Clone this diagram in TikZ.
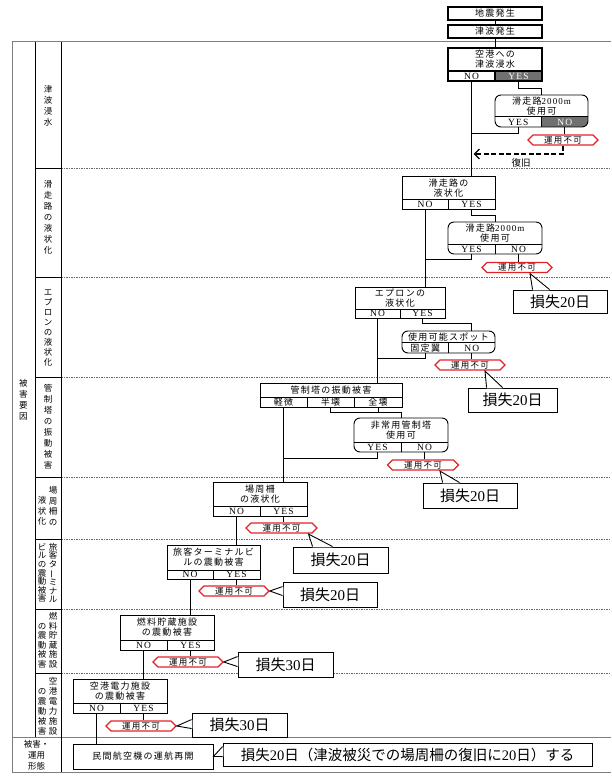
\documentclass[tikz,border=0pt]{standalone}
\usepackage{fontspec}
\setmainfont{Liberation Serif}
\newfontfamily\jp{Noto Sans CJK JP}
\newfontfamily\jpw{Noto Sans CJK JP}[LetterSpace=14]
\newfontfamily\lat{Liberation Serif}[LetterSpace=12]
\usetikzlibrary{calc,shapes.symbols,arrows.meta}
\definecolor{hexred}{RGB}{225,35,40}
\definecolor{cellgray}{RGB}{112,112,112}
\definecolor{framegray}{RGB}{125,125,125}
\definecolor{dashgray}{RGB}{105,105,105}
\tikzset{
 conn/.style={line width=0.9pt},
 tbox/.style={draw, line width=0.9pt, inner sep=0pt, align=center, font=\jpw\fontsize{9}{10}\selectfont},
 cell/.style={draw, line width=0.9pt, inner sep=0pt, font=\lat\fontsize{9.5}{10}\selectfont},
 rcell/.style={inner sep=0pt, font=\lat\fontsize{9.5}{10}\selectfont},
 rbox/.style={draw, line width=0.9pt, rounded corners=6pt, inner sep=0pt},
 rtxt/.style={inner sep=0pt, align=center, font=\jpw\fontsize{9}{10}\selectfont},
 hex/.style={signal, signal to=west and east, draw=hexred, line width=1.1pt, fill=white, inner sep=0pt, minimum width=70pt, minimum height=10pt, font=\jpw\fontsize{8.5}{9}\selectfont},
 loss/.style={draw, line width=0.9pt, fill=white, inner sep=0pt, font=\fontsize{15}{16}\selectfont},
 vlab/.style={inner sep=0pt, align=center, font=\jp\fontsize{8.5}{#1}\selectfont},
 divd/.style={dashgray, line width=0.6pt, dash pattern=on 1.5pt off 1pt},
 divs/.style={black, line width=0.6pt},
 recov/.style={line width=1.8pt, dash pattern=on 5pt off 2.5pt, -{Straight Barb[length=5pt,width=10pt,line width=1.4pt]}},
}
\begin{document}
\begin{tikzpicture}[x=1pt,y=-1pt]
\useasboundingbox (0,0) rectangle (611,776);
\fill[white] (0,0) rectangle (611,776);
% ---------- frame ----------
\foreach \yy in {168,277,377,477,539,609,673}{
  \draw[divd] (61,\yy) -- (611,\yy);
  \draw[divs] (35,\yy) -- (61,\yy);
}
\draw[framegray, line width=1pt] (611,42) -- (12,42) -- (12,772) -- (611,772);
\draw[framegray, line width=0.8pt] (12,737) -- (611,737);
\draw[divs] (35,42) -- (35,737);
\draw[divs] (61,42) -- (61,772);
% ---------- left labels ----------
\node[vlab=11] (lt0) at (23.5,400) {被\\害\\要\\因};
\node[vlab=11] (lt1) at (48,106) {津\\波\\浸\\水};
\node[vlab=11] (lt2) at (48,217) {滑\\走\\路\\の\\液\\状\\化};
\node[vlab=10] (lt3) at (48,328) {エ\\プ\\ロ\\ン\\の\\液\\状\\化};
\node[vlab=11] (lt4) at (48,427) {管\\制\\塔\\の\\振\\動\\被\\害};
\node[vlab=10.5] (lt5a) at (53,506) {場\\周\\柵\\の};
\node[vlab=10.5] (lt5b) at (42,506) {\phantom{液}\\液\\状\\化};
\node[vlab=8.6] (lt6a) at (53,573) {旅\\客\\タ\\\rotatebox[origin=c]{90}{ー}\\ミ\\ナ\\ル};
\node[vlab=8.6] (lt6b) at (42,573) {ビ\\ル\\の\\震\\動\\被\\害};
\node[vlab=9.5] (lt7a) at (53,640) {燃\\料\\貯\\蔵\\施\\設};
\node[vlab=9.5] (lt7b) at (42,640) {\phantom{燃}\\の\\震\\動\\被\\害};
\node[vlab=10] (lt8a) at (53,706) {空\\港\\電\\力\\施\\設};
\node[vlab=10] (lt8b) at (42,706) {\phantom{空}\\の\\震\\動\\被\\害};
\node[inner sep=0pt, align=center, font=\jp\fontsize{8.5}{11}\selectfont] (lt9) at (36.5,755) {被害・\\運用\\形態};
% ---------- top ----------
\node[tbox, line width=1.2pt, minimum width=94pt, minimum height=13pt] (t1) at (495,13.5) {地震発生};
\node[tbox, line width=1.2pt, minimum width=94pt, minimum height=13pt] (t2) at (495,31.5) {津波発生};
\node[tbox, line width=1.7pt, minimum width=94pt, minimum height=23pt] (b1) at (495,59.5) {空港への\\津波浸水};
\node[cell, line width=1.7pt, minimum width=47pt, minimum height=10pt] (b1no) at (471.5,76) {NO};
\node[cell, line width=1.7pt, minimum width=47pt, minimum height=10pt, fill=cellgray, text=white] (b1yes) at (518.5,76) {YES};
\draw[conn] (t1.south) -- (t2.north);
\draw[conn] (t2.south) -- (b1.north);
% rounded box 1
\begin{scope}
\clip[rounded corners=6pt] (495,95) rectangle (588,127);
\fill[cellgray] (541.5,117) rectangle (588,127);
\end{scope}
\node[rbox, minimum width=93pt, minimum height=32pt] (r1) at (541.5,111) {};
\node[rtxt] (r1t) at (541.5,106.5) {滑走路{\lat 2000m}\\使用可};
\node[rcell, minimum width=46.5pt, minimum height=10pt] (r1yes) at (518.25,122) {YES};
\node[rcell, minimum width=46.5pt, minimum height=10pt, text=white] (r1no) at (564.75,122) {NO};
\draw[conn] (r1.west |- r1yes.north) -- (r1.east |- r1yes.north);
\draw[conn] (r1yes.north east) -- (r1yes.south east);
\draw[conn] (b1yes.south) -- ++(0,7) -| (r1.north);
\node[hex] (h1) at (563,140) {運用不可};
\draw[conn] (r1no.south) -- (r1no.south |- h1.north);
\coordinate (j1) at (471.5,133);
\draw[conn] (r1yes.south) |- (j1);
\coordinate (j2) at (473.5,154);
\draw[recov] (h1.south) |- (j2);
\node[inner sep=0pt, font=\jp\fontsize{9.5}{10}\selectfont] (fk) at (521,163) {復旧};
% ---------- row 2 ----------
\node[tbox, minimum width=93pt, minimum height=23pt] (b2) at (448.5,188) {滑走路の\\液状化};
\node[cell, minimum width=46pt, minimum height=10pt] (b2no) at (425,204.5) {NO};
\node[cell, minimum width=47pt, minimum height=10pt] (b2yes) at (471.5,204.5) {YES};
\draw[conn] (b1no.south) -- (b1no.south |- b2.north);
\node[rbox, minimum width=94pt, minimum height=32pt] (r2) at (495,238) {};
\node[rtxt] (r2t) at (495,233) {滑走路{\lat 2000m}\\使用可};
\node[rcell, minimum width=47pt, minimum height=9pt] (r2yes) at (471.5,249.5) {YES};
\node[rcell, minimum width=47pt, minimum height=9pt] (r2no) at (518.5,249.5) {NO};
\draw[conn] (r2.west |- r2yes.north) -- (r2.east |- r2yes.north);
\draw[conn] (r2yes.north east) -- (r2yes.south east);
\draw[conn] (b2yes.south) -- ++(0,5) -| (r2.north);
\coordinate (j3) at (425,259);
\draw[conn] (r2yes.south) |- (j3);
\node[hex] (h2) at (517,267.5) {運用不可};
\draw[conn] (r2no.south) -- (r2no.south |- h2.north);
% ---------- row 3 ----------
\node[tbox, minimum width=90pt, minimum height=22pt] (b3) at (400,298) {エプロンの\\液状化};
\node[cell, minimum width=45pt, minimum height=9pt] (b3no) at (377.5,313.5) {NO};
\node[cell, minimum width=45pt, minimum height=9pt] (b3yes) at (422.5,313.5) {YES};
\draw[conn] (b2no.south) -- (b2no.south |- b3.north);
\node[rbox, minimum width=93pt, minimum height=22pt] (r3) at (448.5,342) {};
\node[rtxt] (r3t) at (448.5,337.5) {使用可能スポット};
\node[rcell, minimum width=46.5pt, minimum height=10pt, font=\jpw\fontsize{9}{10}\selectfont] (r3a) at (425.25,348) {固定翼};
\node[rcell, minimum width=46.5pt, minimum height=10pt] (r3no) at (471.75,348) {NO};
\draw[conn] (r3.west |- r3a.north) -- (r3.east |- r3a.north);
\draw[conn] (r3a.north east) -- (r3a.south east);
\draw[conn] (b3yes.south) -- ++(0,5) -| (r3.north -| r3no.south);
\coordinate (j4) at (377.5,358);
\draw[conn] (r3a.south) |- (j4);
\node[hex] (h3) at (470,365) {運用不可};
\draw[conn] (r3no.south) -- (r3no.south |- h3.north);
% ---------- row 4 ----------
\node[tbox, minimum width=142pt, minimum height=14pt] (b4) at (331,390) {管制塔の振動被害};
\node[cell, minimum width=47pt, minimum height=10pt, font=\jpw\fontsize{9}{10}\selectfont] (b4a) at (283.5,402) {軽微};
\node[cell, minimum width=47pt, minimum height=10pt, font=\jpw\fontsize{9}{10}\selectfont] (b4b) at (330.5,402) {半壊};
\node[cell, minimum width=48pt, minimum height=10pt, font=\jpw\fontsize{9}{10}\selectfont] (b4c) at (378,402) {全壊};
\draw[conn] (b3no.south) -- (b3no.south |- b4.north);
\node[rbox, minimum width=94pt, minimum height=34pt] (r4) at (401,435) {};
\node[rtxt] (r4t) at (401,430) {非常用管制塔\\使用可};
\node[rcell, minimum width=47pt, minimum height=9pt] (r4yes) at (377.5,447.5) {YES};
\node[rcell, minimum width=47pt, minimum height=9pt] (r4no) at (424.5,447.5) {NO};
\draw[conn] (r4.west |- r4yes.north) -- (r4.east |- r4yes.north);
\draw[conn] (r4yes.north east) -- (r4yes.south east);
\draw[conn] (b4b.south) -- ++(0,5) -| (r4.north);
\draw[conn] (b4c.south) -- ++(0,5);
\coordinate (j5) at (283.5,458);
\draw[conn] (r4yes.south) |- (j5);
\node[hex, minimum width=71pt] (h4) at (423,465) {運用不可};
\draw[conn] (r4no.south) -- (r4no.south |- h4.north);
% ---------- row 5 ----------
\node[tbox, minimum width=94pt, minimum height=24pt] (b5) at (260,494) {場周柵\\の液状化};
\node[cell, minimum width=47pt, minimum height=10pt] (b5no) at (236.5,511) {NO};
\node[cell, minimum width=47pt, minimum height=10pt] (b5yes) at (283.5,511) {YES};
\draw[conn] (b4a.south) -- (b4a.south |- b5.north);
\node[hex, minimum width=71pt] (h5) at (281.5,528) {運用不可};
\draw[conn] (b5yes.south) -- (b5yes.south |- h5.north);
% ---------- row 6 ----------
\node[tbox, minimum width=93pt, minimum height=25pt] (b6) at (213.5,557.5) {旅客ターミナルビ\\ルの震動被害};
\node[cell, minimum width=46pt, minimum height=9pt] (b6no) at (190,574.5) {NO};
\node[cell, minimum width=47pt, minimum height=9pt] (b6yes) at (236.5,574.5) {YES};
\draw[conn] (b5no.south) -- (b5no.south |- b6.north);
\node[hex] (h6) at (234,591) {運用不可};
\draw[conn] (b6yes.south) -- (b6yes.south |- h6.north);
% ---------- row 7 ----------
\node[tbox, minimum width=94pt, minimum height=25pt] (b7) at (167,627.5) {燃料貯蔵施設\\の震動被害};
\node[cell, minimum width=47pt, minimum height=10pt] (b7no) at (143.5,645) {NO};
\node[cell, minimum width=47pt, minimum height=10pt] (b7yes) at (190.5,645) {YES};
\draw[conn] (b6no.south) -- (b6no.south |- b7.north);
\node[hex] (h7) at (188,662) {運用不可};
\draw[conn] (b7yes.south) -- (b7yes.south |- h7.north);
% ---------- row 8 ----------
\node[tbox, minimum width=94pt, minimum height=24pt] (b8) at (120,691) {空港電力施設\\の震動被害};
\node[cell, minimum width=47pt, minimum height=10pt] (b8no) at (96.5,708) {NO};
\node[cell, minimum width=47pt, minimum height=10pt] (b8yes) at (143.5,708) {YES};
\draw[conn] (b7no.south) -- (b7no.south |- b8.north);
\node[hex] (h8) at (141,726) {運用不可};
\draw[conn] (b8yes.south) -- (b8yes.south |- h8.north);
% ---------- bottom ----------
\node[tbox, minimum width=140pt, minimum height=25pt] (b9) at (143,756.5) {民間航空機の運航再開};
\draw[conn] (b8no.south) -- (b8no.south |- b9.north);
% ---------- callouts ----------
\node[loss, minimum width=94pt, minimum height=23pt] (c2) at (560,301.5) {{\jp 損失}20{\jp 日}};
\fill[white] ($(c2.north west)+(20,0.8)$) -- ($(h2.south)+(13,0.5)$) -- ($(c2.north west)+(37,0.8)$) -- cycle;
\draw[conn] ($(c2.north west)+(20,0)$) -- ($(h2.south)+(13,0.5)$) -- ($(c2.north west)+(37,0)$);
\node[loss, minimum width=89pt, minimum height=24pt] (c3) at (512.5,400) {{\jp 損失}20{\jp 日}};
\fill[white] ($(c3.north west)+(19,0.8)$) -- ($(h3.south)+(15,0.5)$) -- ($(c3.north west)+(35,0.8)$) -- cycle;
\draw[conn] ($(c3.north west)+(19,0)$) -- ($(h3.south)+(15,0.5)$) -- ($(c3.north west)+(35,0)$);
\node[loss, minimum width=94pt, minimum height=25pt] (c4) at (470,495.5) {{\jp 損失}20{\jp 日}};
\fill[white] ($(c4.north west)+(20,0.8)$) -- ($(h4.south)+(17,0.5)$) -- ($(c4.north west)+(37,0.8)$) -- cycle;
\draw[conn] ($(c4.north west)+(20,0)$) -- ($(h4.south)+(17,0.5)$) -- ($(c4.north west)+(37,0)$);
\node[loss, minimum width=95pt, minimum height=26pt] (c5) at (340.5,560) {{\jp 損失}20{\jp 日}};
\fill[white] ($(c5.north west)+(20,0.8)$) -- ($(h5.south)+(27,0.5)$) -- ($(c5.north west)+(40,0.8)$) -- cycle;
\draw[conn] ($(c5.north west)+(20,0)$) -- ($(h5.south)+(27,0.5)$) -- ($(c5.north west)+(40,0)$);
\node[loss, minimum width=94pt, minimum height=25pt] (c6) at (330,594.5) {{\jp 損失}20{\jp 日}};
\fill[white] ($(c6.north west)+(0.8,5)$) -- (h6.east) -- ($(c6.north west)+(0.8,14)$) -- cycle;
\draw[conn] ($(c6.north west)+(0,5)$) -- (h6.east) -- ($(c6.north west)+(0,14)$);
\node[loss, minimum width=95pt, minimum height=25pt] (c7) at (285.5,664.5) {{\jp 損失}30{\jp 日}};
\fill[white] ($(c7.north west)+(0.8,5)$) -- (h7.east) -- ($(c7.north west)+(0.8,15)$) -- cycle;
\draw[conn] ($(c7.north west)+(0,5)$) -- (h7.east) -- ($(c7.north west)+(0,15)$);
\node[loss, minimum width=95pt, minimum height=24pt] (c8) at (239.5,725) {{\jp 損失}30{\jp 日}};
\fill[white] ($(c8.north west)+(0.8,7)$) -- (h8.east) -- ($(c8.north west)+(0.8,16)$) -- cycle;
\draw[conn] ($(c8.north west)+(0,7)$) -- (h8.east) -- ($(c8.north west)+(0,16)$);
\node[loss, minimum width=369pt, minimum height=23pt, font=\fontsize{14.5}{16}\selectfont] (c9) at (407.5,754.5) {{\jp 損失}20{\jp 日（津波被災での場周柵の復旧に}20{\jp 日）する}};
\fill[white] ($(c9.north west)+(0.8,4)$) -- (b9.east) -- ($(c9.north west)+(0.8,14)$) -- cycle;
\draw[conn] ($(c9.north west)+(0,4)$) -- (b9.east) -- ($(c9.north west)+(0,14)$);
\end{tikzpicture}
\end{document}
